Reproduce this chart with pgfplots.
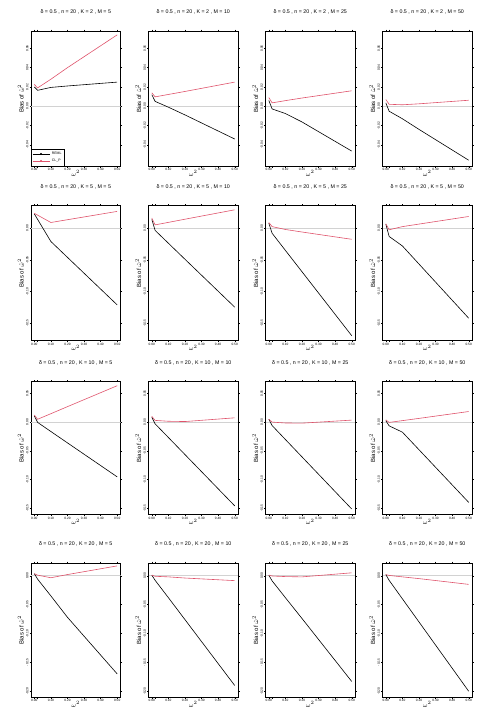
\documentclass[border=0pt]{standalone}
\usepackage{fontspec}
\setmainfont{Liberation Sans}
\usepackage{pgfplots}
\pgfplotsset{compat=1.18}
\definecolor{rred}{HTML}{DF536B}

\pgfplotsset{
  panel/.style={
    anchor=north west, scale only axis, width=89.5pt,
    xmin=-0.02, xmax=0.52,
    xtick={0,0.1,0.2,0.3,0.4,0.5},
    xticklabels={0.00,0.10,0.20,0.30,0.40,0.50},
    extra x ticks={0.02}, extra x tick labels={},
    scaled y ticks=false,
    tick align=outside, major tick length=1.5pt,
    tick style={black, line width=0.3pt},
    axis line style={line width=0.45pt},
    ticklabel style={font=\fontsize{3.2}{3.5}\selectfont, inner sep=0.8pt},
    yticklabel style={rotate=90, anchor=south, /pgf/number format/fixed, /pgf/number format/fixed zerofill, /pgf/number format/precision=2},
    /pgf/number format/assume math mode=true,
    xlabel={$\omega^2$}, ylabel={Bias of $\hat{\omega}^2$},
    xlabel style={font=\fontsize{6}{7}\selectfont, at={(axis description cs:0.5,0)}, anchor=north, yshift=-1pt},
    ylabel style={font=\fontsize{6}{7}\selectfont, at={(axis description cs:-0.115,0.5)}, anchor=center},
    title style={font=\fontsize{5.3}{6}\selectfont, at={(axis description cs:0.5,1)}, anchor=south, yshift=7pt},
    every axis plot/.append style={line width=0.6pt},
  },
  zero/.style={gray!35, line width=1pt, forget plot},
  r1/.style={panel, height=135pt, ymin=-0.062, ymax=0.078, ytick={-0.04,-0.02,0,0.02,0.04,0.06}},
  r2/.style={panel, height=135pt, ymin=-0.1775, ymax=0.0355, ytick={-0.15,-0.10,-0.05,0}},
  r3/.style={panel, height=133pt, ymin=-0.1615, ymax=0.0705, ytick={-0.15,-0.10,-0.05,0,0.05}},
  r4/.style={panel, height=134pt, ymin=-0.21, ymax=0.022, ytick={-0.20,-0.15,-0.10,-0.05,0}},
}

\begin{document}
\begin{tikzpicture}
\useasboundingbox (0,0) rectangle (495pt,-726pt);

% ---------------- row 1 : K = 2
\begin{axis}[r1, at={(31pt,-31pt)}, title={δ = 0.5 , n = 20 , K = 2 , M = 5},
  legend style={at={(axis description cs:0,0)}, anchor=south west, font=\fontsize{3.5}{4}\selectfont, inner sep=1pt, row sep=-1pt, legend cell align=left},
  legend image post style={mark=*, mark size=0.6pt}]
\addplot[zero] coordinates {(-0.02,0) (0.52,0)};
\addplot[black] coordinates {(0,0.020) (0.02,0.0165) (0.1,0.0195) (0.2,0.021) (0.5,0.025)};
\addplot[rred] coordinates {(0,0.0226) (0.02,0.019) (0.1,0.028) (0.2,0.040) (0.5,0.074)};
\legend{REML, CL\_P}
\end{axis}
\begin{axis}[r1, at={(148.5pt,-31pt)}, title={δ = 0.5 , n = 20 , K = 2 , M = 10}]
\addplot[zero] coordinates {(-0.02,0) (0.52,0)};
\addplot[black] coordinates {(0,0.012) (0.02,0.005) (0.1,-0.001) (0.2,-0.009) (0.5,-0.034)};
\addplot[rred] coordinates {(0,0.0139) (0.02,0.0097) (0.1,0.0122) (0.2,0.0153) (0.5,0.025)};
\end{axis}
\begin{axis}[r1, at={(265.5pt,-31pt)}, title={δ = 0.5 , n = 20 , K = 2 , M = 25}]
\addplot[zero] coordinates {(-0.02,0) (0.52,0)};
\addplot[black] coordinates {(0,0.006) (0.02,-0.0028) (0.1,-0.0076) (0.2,-0.0163) (0.5,-0.0465)};
\addplot[rred] coordinates {(0,0.009) (0.02,0.0035) (0.1,0.0058) (0.2,0.0085) (0.5,0.016)};
\end{axis}
\begin{axis}[r1, at={(382.5pt,-31pt)}, title={δ = 0.5 , n = 20 , K = 2 , M = 50}]
\addplot[zero] coordinates {(-0.02,0) (0.52,0)};
\addplot[black] coordinates {(0,0.0035) (0.02,-0.0052) (0.1,-0.013) (0.2,-0.024) (0.5,-0.056)};
\addplot[rred] coordinates {(0,0.007) (0.02,0.002) (0.1,0.0015) (0.2,0.0025) (0.5,0.0062)};
\end{axis}

% ---------------- row 2 : K = 5
\begin{axis}[r2, at={(31pt,-205.7pt)}, title={δ = 0.5 , n = 20 , K = 5 , M = 5}]
\addplot[zero] coordinates {(-0.02,0) (0.52,0)};
\addplot[black] coordinates {(0,0.0225) (0.02,0.0138) (0.1,-0.021) (0.2,-0.046) (0.5,-0.121)};
\addplot[rred] coordinates {(0,0.0235) (0.02,0.0206) (0.1,0.009) (0.2,0.0134) (0.5,0.0265)};
\end{axis}
\begin{axis}[r2, at={(148.5pt,-205.7pt)}, title={δ = 0.5 , n = 20 , K = 5 , M = 10}]
\addplot[zero] coordinates {(-0.02,0) (0.52,0)};
\addplot[black] coordinates {(0,0.014) (0.02,-0.0035) (0.1,-0.0237) (0.2,-0.049) (0.5,-0.1245)};
\addplot[rred] coordinates {(0,0.016) (0.02,0.00525) (0.1,0.0092) (0.2,0.0142) (0.5,0.029)};
\end{axis}
\begin{axis}[r2, at={(265.5pt,-205.7pt)}, title={δ = 0.5 , n = 20 , K = 5 , M = 25}]
\addplot[zero] coordinates {(-0.02,0) (0.52,0)};
\addplot[black] coordinates {(0,0.008) (0.02,-0.008) (0.1,-0.035) (0.2,-0.0686) (0.5,-0.1695)};
\addplot[rred] coordinates {(0,0.009) (0.02,0.0025) (0.1,-0.002) (0.2,-0.006) (0.5,-0.0175)};
\end{axis}
\begin{axis}[r2, at={(382.5pt,-205.7pt)}, title={δ = 0.5 , n = 20 , K = 5 , M = 50}]
\addplot[zero] coordinates {(-0.02,0) (0.52,0)};
\addplot[black] coordinates {(0,0.0065) (0.02,-0.013) (0.1,-0.028) (0.2,-0.0565) (0.5,-0.142)};
\addplot[rred] coordinates {(0,0.007) (0.02,-0.0025) (0.1,0.0025) (0.2,0.0065) (0.5,0.0185)};
\end{axis}

% ---------------- row 3 : K = 10
\begin{axis}[r3, at={(31pt,-381.7pt)}, title={δ = 0.5 , n = 20 , K = 10 , M = 5}]
\addplot[zero] coordinates {(-0.02,0) (0.52,0)};
\addplot[black] coordinates {(0,0.011) (0.02,-0.0005) (0.1,-0.0164) (0.2,-0.0362) (0.5,-0.0955)};
\addplot[rred] coordinates {(0,0.0125) (0.02,0.005) (0.1,0.0147) (0.2,0.027) (0.5,0.0635)};
\end{axis}
\begin{axis}[r3, at={(148.5pt,-381.7pt)}, title={δ = 0.5 , n = 20 , K = 10 , M = 10}]
\addplot[zero] coordinates {(-0.02,0) (0.52,0)};
\addplot[black] coordinates {(0,0.0085) (0.02,-0.003) (0.1,-0.0268) (0.2,-0.0566) (0.5,-0.146)};
\addplot[rred] coordinates {(0,0.01) (0.02,0.003) (0.1,0.0015) (0.2,0.001) (0.5,0.0075)};
\end{axis}
\begin{axis}[r3, at={(265.5pt,-381.7pt)}, title={δ = 0.5 , n = 20 , K = 10 , M = 25}]
\addplot[zero] coordinates {(-0.02,0) (0.52,0)};
\addplot[black] coordinates {(0,0.005) (0.02,-0.006) (0.1,-0.0303) (0.2,-0.0606) (0.5,-0.1515)};
\addplot[rred] coordinates {(0,0.005) (0.02,0) (0.1,-0.0015) (0.2,-0.0018) (0.5,0.0035)};
\end{axis}
\begin{axis}[r3, at={(382.5pt,-381.7pt)}, title={δ = 0.5 , n = 20 , K = 10 , M = 50}]
\addplot[zero] coordinates {(-0.02,0) (0.52,0)};
\addplot[black] coordinates {(0,0.0025) (0.02,-0.0065) (0.1,-0.0175) (0.2,-0.0481) (0.5,-0.14)};
\addplot[rred] coordinates {(0,0.004) (0.02,-0.0005) (0.1,0.0026) (0.2,0.0065) (0.5,0.0185)};
\end{axis}

% ---------------- row 4 : K = 20
\begin{axis}[r4, at={(31pt,-563pt)}, title={δ = 0.5 , n = 20 , K = 20 , M = 5}]
\addplot[zero] coordinates {(-0.02,0) (0.52,0)};
\addplot[black] coordinates {(0,0.0035) (0.02,-0.006) (0.1,-0.035) (0.2,-0.072) (0.5,-0.17)};
\addplot[rred] coordinates {(0,0.0035) (0.02,0.001) (0.1,-0.0035) (0.2,0.002) (0.5,0.017)};
\end{axis}
\begin{axis}[r4, at={(148.5pt,-563pt)}, title={δ = 0.5 , n = 20 , K = 20 , M = 10}]
\addplot[zero] coordinates {(-0.02,0) (0.52,0)};
\addplot[black] coordinates {(0,0.001) (0.02,-0.008) (0.1,-0.038) (0.2,-0.076) (0.5,-0.19)};
\addplot[rred] coordinates {(0,0.001) (0.02,-0.001) (0.1,-0.002) (0.2,-0.004) (0.5,-0.0085)};
\end{axis}
\begin{axis}[r4, at={(265.5pt,-563pt)}, title={δ = 0.5 , n = 20 , K = 20 , M = 25}]
\addplot[zero] coordinates {(-0.02,0) (0.52,0)};
\addplot[black] coordinates {(0,0.001) (0.02,-0.009) (0.1,-0.038) (0.2,-0.074) (0.5,-0.183)};
\addplot[rred] coordinates {(0,0.001) (0.02,-0.0005) (0.1,-0.0015) (0.2,-0.002) (0.5,0.005)};
\end{axis}
\begin{axis}[r4, at={(382.5pt,-563pt)}, title={δ = 0.5 , n = 20 , K = 20 , M = 50}]
\addplot[zero] coordinates {(-0.02,0) (0.52,0)};
\addplot[black] coordinates {(0,0.002) (0.02,-0.008) (0.1,-0.04) (0.2,-0.08) (0.5,-0.2)};
\addplot[rred] coordinates {(0,0.002) (0.02,0.0005) (0.1,-0.002) (0.2,-0.005) (0.5,-0.015)};
\end{axis}
\end{tikzpicture}
\end{document}
